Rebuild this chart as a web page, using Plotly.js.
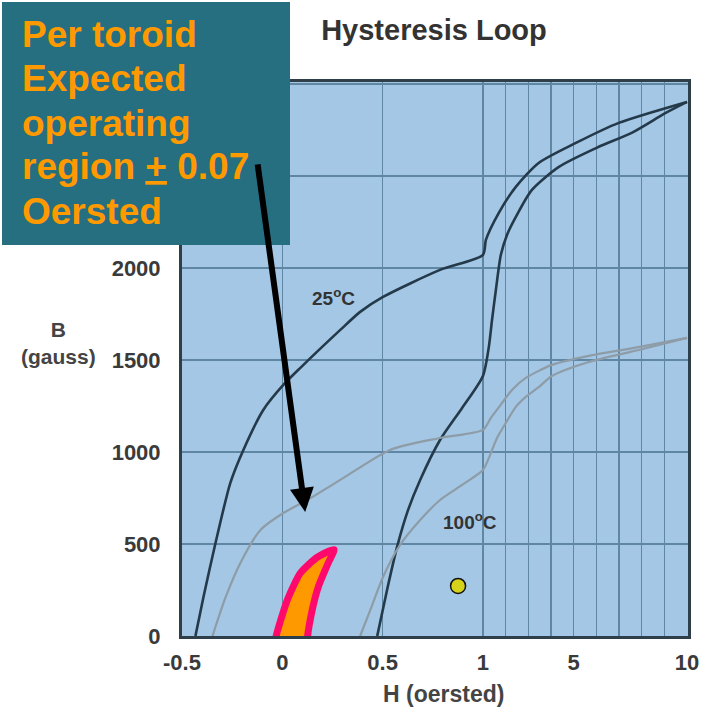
<!DOCTYPE html>
<html>
<head>
<meta charset="utf-8">
<script src="https://cdn.plot.ly/plotly-3.0.1.min.js"></script>
<style>html,body{margin:0;padding:0;background:#fff;}#chart{width:709px;height:723px;}</style>
</head>
<body>
<div id="chart"></div>
<script>
// ---- data (H in oersted, B in gauss) ----
const desc25H = [10, 6.99, 5.10, 3.47, 2.45, 1.70, 1.13, 1.0, 0.786, 0.502, 0.388, 0.289, 0.09, 0.005, -0.095, -0.194, -0.259, -0.333, -0.393, -0.433];
const desc25B = [2902, 2788, 2679, 2571, 2440, 2299, 2152, 2071, 1989, 1842, 1761, 1663, 1457, 1364, 1228, 1011, 832, 505, 212, 0];
const asc25H  = [0.473, 0.522, 0.572, 0.627, 0.687, 0.786, 0.896, 1.0, 1.26, 1.40, 1.57, 1.79, 2.06, 2.45, 3.16, 4.35, 6.11, 7.56, 9.06, 10];
const asc25B  = [0, 250, 484, 685, 848, 1065, 1239, 1413, 1571, 1717, 1880, 2071, 2179, 2277, 2424, 2549, 2658, 2734, 2842, 2902];
const desc100H = [10, 7.92, 5.67, 4.04, 2.89, 2.28, 1.84, 1.35, 1.0, 0.786, 0.537, 0.289, 0.124, 0.005, -0.109, -0.209, -0.284, -0.348];
const desc100B = [1620, 1571, 1522, 1473, 1402, 1337, 1266, 1185, 1120, 1076, 1011, 848, 739, 668, 576, 397, 207, 0];
const asc100H = [0.388, 0.448, 0.502, 0.587, 0.687, 0.786, 0.896, 1.0, 1.26, 1.62, 2.01, 2.45, 2.89, 3.47, 4.04, 5.67, 7.87, 10];
const asc100B = [0, 168, 321, 495, 630, 739, 821, 902, 967, 1076, 1158, 1245, 1299, 1353, 1413, 1489, 1554, 1620];
const regionH = [-0.035, -0.035, 0.025, 0.09, 0.174, 0.258, 0.229, 0.179, 0.149, 0.124, 0.124];
const regionB = [-80, -22, 196, 342, 428, 470, 397, 266, 141, -22, -80];
const pointH = [0.876];
const pointB = [272];
const xTickVals = [-0.5, 0, 0.5, 1, 2, 3, 4, 5, 6, 7, 8, 9, 10];
const xTickText = ['-0.5', '0', '0.5', '1', '', '', '', '5', '', '', '', '', '10'];
const yTickVals = [0, 500, 1000, 1500, 2000, 2500, 3000];
const yTickText = ['0', '500', '1000', '1500', '2000', '', ''];
const boxLines = ['Per toroid', 'Expected', 'operating', 'region <u>+</u> 0.07', 'Oersted'];

// piecewise H axis: linear up to 1, compressed linear from 1 to 10
const K = 0.113;
const u = h => h <= 1 ? h : 1 + (h - 1) * K;
const U = arr => arr.map(u);

const dark = '#24394a', gray = '#8e9ca7';
const traces = [
  {x: U(desc25H), y: desc25B, mode: 'lines', line: {color: dark, width: 2.6, shape: 'spline', smoothing: 0.7}, hoverinfo: 'skip'},
  {x: U(asc25H), y: asc25B, mode: 'lines', line: {color: dark, width: 2.6, shape: 'spline', smoothing: 0.7}, hoverinfo: 'skip'},
  {x: U(desc100H), y: desc100B, mode: 'lines', line: {color: gray, width: 2.2, shape: 'spline', smoothing: 0.7}, hoverinfo: 'skip'},
  {x: U(asc100H), y: asc100B, mode: 'lines', line: {color: gray, width: 2.2, shape: 'spline', smoothing: 0.7}, hoverinfo: 'skip'},
  {x: U(regionH), y: regionB, mode: 'lines', fill: 'toself', fillcolor: '#ff9900',
   line: {color: '#ff0a6c', width: 7, shape: 'spline', smoothing: 0.6}, hoverinfo: 'skip'},
  {x: U(pointH), y: pointB, mode: 'markers', marker: {color: '#d6d21c', size: 15, line: {color: '#111', width: 1.5}}, hoverinfo: 'skip'}
];

const L = 182, R = 21, T = 82, B = 87, W = 709 - L - R, H = 723 - T - B;
const px = v => (v - L) / W;          // pixel x -> paper x
const py = v => (723 - B - v) / H;    // pixel y -> paper y
const tickFont = {family: 'Liberation Sans, Arial, sans-serif', size: 22, color: '#3a3a3a', weight: 'bold'};

const annotations = [
  {xref: 'x', yref: 'y', x: u(0.254), y: 1842, text: '25<sup>o</sup>C', showarrow: false,
   font: {family: 'Liberation Sans, Arial', size: 19, color: '#333', weight: 'bold'}},
  {xref: 'x', yref: 'y', x: u(0.933), y: 625, text: '100<sup>o</sup>C', showarrow: false,
   font: {family: 'Liberation Sans, Arial', size: 19, color: '#333', weight: 'bold'}},
  {xref: 'paper', yref: 'paper', x: px(58), y: py(343), xanchor: 'center', yanchor: 'middle', text: 'B<br>(gauss)', showarrow: false,
   font: {family: 'Liberation Sans, Arial', size: 21, color: '#444', weight: 'bold'}},
  {xref: 'paper', yref: 'paper', x: px(443), y: py(694), xanchor: 'center', yanchor: 'middle', text: 'H (oersted)', showarrow: false,
   font: {family: 'Liberation Sans, Arial', size: 23, color: '#444', weight: 'bold'}},
];
boxLines.forEach((t, i) => {
  annotations.push({xref: 'paper', yref: 'paper', x: px(20), y: py(35 + i * 44), xanchor: 'left', yanchor: 'middle',
    text: t, showarrow: false, font: {family: 'Liberation Sans, Arial', size: 37, color: '#ff9900', weight: 'bold'}});
});
annotations.push({xref: 'x', yref: 'y', axref: 'x', ayref: 'y', x: u(0.114), y: 674, ax: u(-0.124), ay: 2571,
  text: '', showarrow: true, arrowhead: 2, arrowsize: 0.8, arrowwidth: 6, arrowcolor: '#000'});

const layout = {
  width: 709, height: 723,
  margin: {l: L, r: R, t: T, b: B},
  paper_bgcolor: '#ffffff', plot_bgcolor: '#a3c7e4',
  showlegend: false,
  title: {text: 'Hysteresis Loop', xref: 'paper', x: px(434), xanchor: 'center', yref: 'container', y: 1 - 30 / 723, yanchor: 'middle',
    font: {family: 'Liberation Sans, Arial', size: 29, color: '#333', weight: 'bold'}},
  xaxis: {range: [-0.5, u(10) + 0.005], tickvals: U(xTickVals), ticktext: xTickText, showgrid: true, gridcolor: '#5f87a4', gridwidth: 1.4,
    zeroline: false, showline: true, mirror: true, linecolor: '#2f3f4a', linewidth: 3, ticks: '', tickfont: tickFont, ticklabelstandoff: 5, fixedrange: true},
  yaxis: {range: [0, 3010], tickvals: yTickVals, ticktext: yTickText, showgrid: true, gridcolor: '#5f87a4', gridwidth: 1.4,
    zeroline: false, showline: true, mirror: true, linecolor: '#2f3f4a', linewidth: 3, ticks: '', tickfont: tickFont, ticklabelstandoff: 14, fixedrange: true},
  shapes: [
    {type: 'rect', xref: 'paper', yref: 'paper', x0: px(2), x1: px(290), y0: py(245), y1: py(2), fillcolor: '#266f81', line: {width: 0}, layer: 'above'}
  ],
  annotations: annotations
};

Plotly.newPlot('chart', traces, layout, {staticPlot: true, displayModeBar: false});
</script>
</body>
</html>
